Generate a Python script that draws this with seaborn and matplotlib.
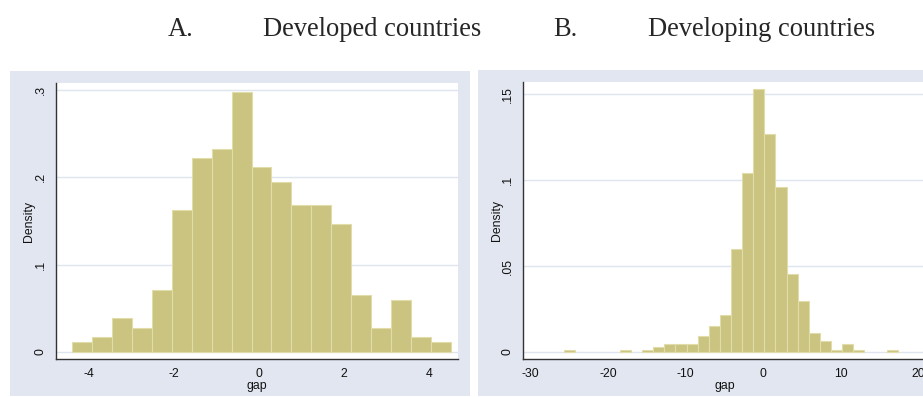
import numpy as np
import pandas as pd
import matplotlib
matplotlib.use("Agg")
import matplotlib.pyplot as plt
from matplotlib.patches import Rectangle
import seaborn as sns

# ---- Histogram data (density per bin) ----
# A. Developed countries: 19 equal-width bins
dev_bin_range = (-4.393, 4.511)
dev_density = [0.0111, 0.0176, 0.0385, 0.0275, 0.0710, 0.1626, 0.2218,
               0.2328, 0.2977, 0.2115, 0.1950, 0.1680, 0.1680, 0.1466,
               0.0653, 0.0275, 0.0599, 0.0176, 0.0111]

# B. Developing countries: 30 equal-width bins
dvg_bin_range = (-25.61, 17.29)
dvg_density = [0.0012, 0.0, 0.0, 0.0, 0.0, 0.0012, 0.0, 0.0012, 0.0030,
               0.0047, 0.0047, 0.0047, 0.0093, 0.0151, 0.0217, 0.0601,
               0.1040, 0.1530, 0.1271, 0.0961, 0.0454, 0.0298, 0.0108,
               0.0064, 0.0012, 0.0047, 0.0012, 0.0, 0.0, 0.0012]

dev_xticks = [-4, -2, 0, 2, 4]
dev_yticks = [0, 0.1, 0.2, 0.3]
dev_yticklabels = ["0", ".1", ".2", ".3"]

dvg_xticks = [-30, -20, -10, 0, 10, 20]
dvg_yticks = [0, 0.05, 0.10, 0.15]
dvg_yticklabels = ["0", ".05", ".1", ".15"]

panel_titles = [("A.", "Developed countries"), ("B.", "Developing countries")]
x_title = "gap"
y_title = "Density"

# ---- Styling ----
W, H = 923, 397
BAR = "#cac480"
BAR_EDGE = "#e2dcab"
REGION = "#e2e6f0"
GRID = "#dfe5ee"
AXIS = "#333333"
SANS = ["Liberation Sans", "DejaVu Sans"]
SERIF = ["Liberation Serif", "DejaVu Serif"]
LABEL_SIZE = 8.8

sns.set_style("white")
plt.rcParams["font.family"] = SANS


def fx(px):
    return px / W


def fy(py):
    return 1 - py / H


def hist_frame(bin_range, density):
    n = len(density)
    edges = np.linspace(bin_range[0], bin_range[1], n + 1)
    centers = (edges[:-1] + edges[1:]) / 2
    return pd.DataFrame({"gap": centers, "density": density}), n


fig = plt.figure(figsize=(W / 100, H / 100), dpi=100)
fig.patch.set_facecolor("white")

# graph-region backgrounds
fig.add_artist(Rectangle((fx(10), fy(396)), fx(460), (396 - 70.7) / H,
                         transform=fig.transFigure, facecolor=REGION,
                         edgecolor="none", zorder=0))
fig.add_artist(Rectangle((fx(477.7), fy(396)), fx(460), (396 - 70) / H,
                         transform=fig.transFigure, facecolor=REGION,
                         edgecolor="none", zorder=0))

ax1 = fig.add_axes([fx(56), fy(359), fx(458 - 56), (359 - 83) / H])
ax2 = fig.add_axes([fx(522.7), fy(359), fx(927 - 522.7), (359 - 81.7) / H])

panels = [
    (ax1, dev_bin_range, dev_density, dev_xticks, dev_yticks, dev_yticklabels,
     (-4.776, 4.682), (-0.0080, 0.3081)),
    (ax2, dvg_bin_range, dvg_density, dvg_xticks, dvg_yticks, dvg_yticklabels,
     (-30.97, 21.07), (-0.0041, 0.1573)),
]

for ax, brange, dens, xt, yt, ytl, xlim, ylim in panels:
    df, nbins = hist_frame(brange, dens)
    ax.set_facecolor("white")
    ax.set_axisbelow(True)
    ax.yaxis.grid(True, color=GRID, linewidth=1.0)
    sns.histplot(data=df, x="gap", weights="density", bins=nbins,
                 binrange=brange, stat="count", color=BAR,
                 edgecolor=BAR_EDGE, linewidth=0.8, alpha=1, ax=ax, zorder=2)
    for p in ax.patches:
        if p.get_height() == 0:
            p.set_visible(False)
    ax.set_xlim(*xlim)
    ax.set_ylim(*ylim)
    ax.set_xticks(xt)
    ax.set_xticklabels([str(v) for v in xt])
    ax.set_yticks(yt)
    ax.set_yticklabels(ytl, rotation=90, va="center", ha="right")
    ax.tick_params(direction="out", length=3.6, width=0.8, color=AXIS,
                   labelsize=LABEL_SIZE, pad=3.0, labelcolor="#111111")
    for side in ("top", "right"):
        ax.spines[side].set_visible(False)
    for side in ("left", "bottom"):
        ax.spines[side].set_color(AXIS)
        ax.spines[side].set_linewidth(1.0)
    ax.set_xlabel(x_title, fontsize=LABEL_SIZE, labelpad=0.0, color="#111111")
    ax.set_ylabel(y_title, fontsize=LABEL_SIZE, color="#111111")

ax1.yaxis.set_label_coords((34.5 - 56) / (458 - 56), 0.5)
ax2.yaxis.set_label_coords((503.5 - 522.7) / (927 - 522.7), 0.5)

# panel headings
for (letter, name), (lx, nx) in zip(panel_titles, [(168, 263), (553, 648)]):
    fig.text(fx(lx), fy(36), letter, family=SERIF, fontsize=19.1,
             ha="left", va="baseline")
    fig.text(fx(nx), fy(36), name, family=SERIF, fontsize=19.1,
             ha="left", va="baseline")

fig.savefig("out.png", dpi=100, facecolor="white")
